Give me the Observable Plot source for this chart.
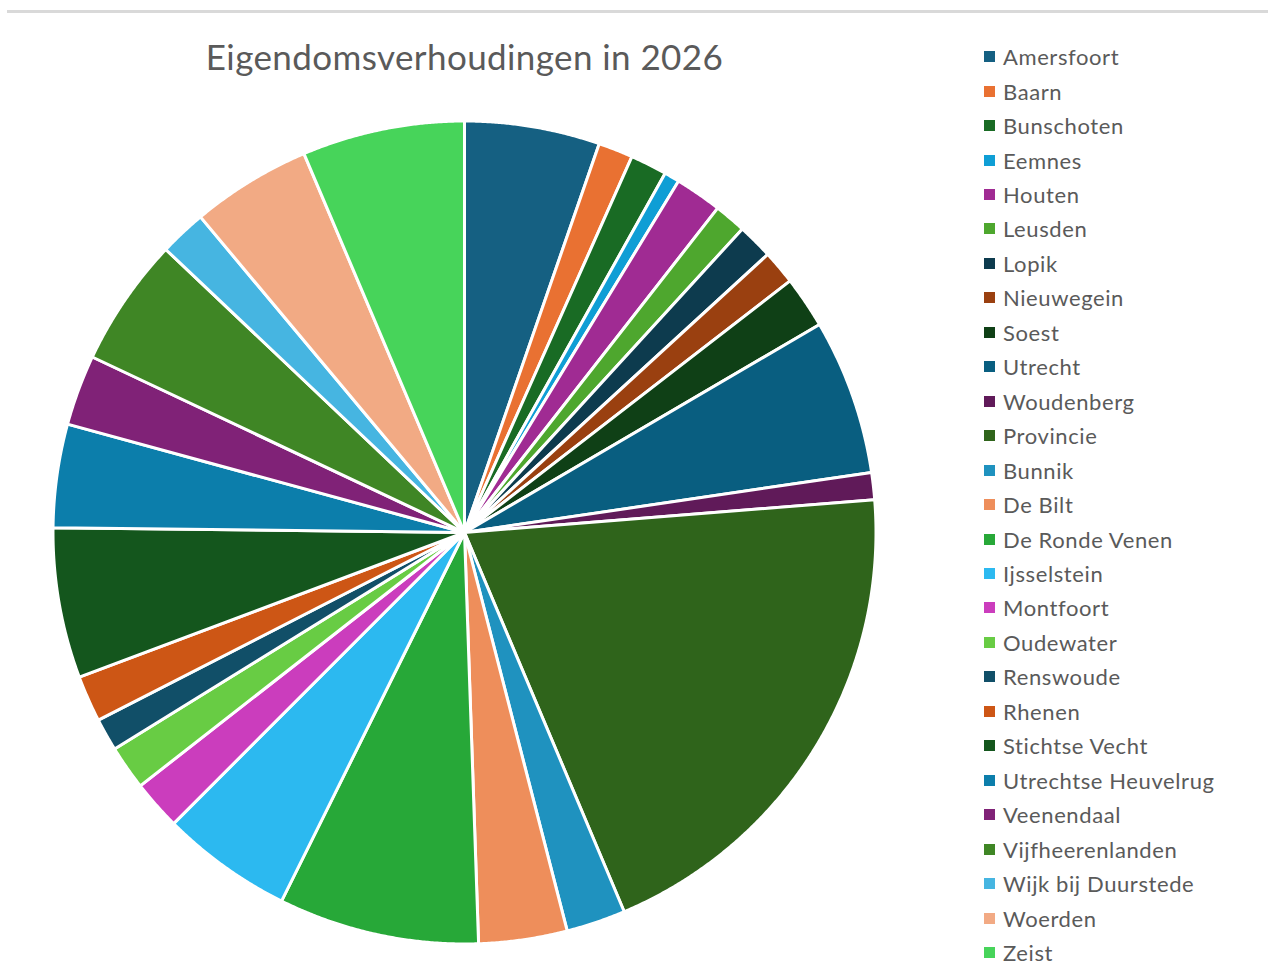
<!DOCTYPE html>
<html>
<head>
<meta charset="utf-8">
<script src="https://cdn.jsdelivr.net/npm/d3@7"></script>
<script src="https://cdn.jsdelivr.net/npm/@observablehq/plot@0.6"></script>
<style>
  html, body { margin: 0; padding: 0; background: #fff; }
  #frame { position: relative; width: 1268px; height: 972px; overflow: hidden; font-family: Lato, "Open Sans", sans-serif; }
  #topline { position: absolute; left: 7px; right: 0; top: 10px; height: 3px; background: #d9d9d9; }
  #title { position: absolute; left: 0; width: 929px; top: 35px; text-align: center; font-size: 35px; color: #5a5a5a; letter-spacing: 0.4px; }
  #pie { position: absolute; left: 34px; top: 102px; }
  #legend { position: absolute; left: 984px; top: 39.5px; }
  .item { display: flex; align-items: center; height: 34.46px; font-size: 22px; color: #5a5a5a; letter-spacing: 0.6px; white-space: nowrap; }
  .sw { width: 11px; height: 11px; margin-right: 8px; flex: none; }
</style>
</head>
<body>
<div id="frame">
  <div id="topline"></div>
  <div id="title"></div>
  <div id="pie"></div>
  <div id="legend"></div>
</div>
<script>
const title = "Eigendomsverhoudingen in 2026";

const names = [
  "Amersfoort", "Baarn", "Bunschoten", "Eemnes", "Houten", "Leusden", "Lopik",
  "Nieuwegein", "Soest", "Utrecht", "Woudenberg", "Provincie", "Bunnik", "De Bilt",
  "De Ronde Venen", "Ijsselstein", "Montfoort", "Oudewater", "Renswoude", "Rhenen",
  "Stichtse Vecht", "Utrechtse Heuvelrug", "Veenendaal", "Vijfheerenlanden",
  "Wijk bij Duurstede", "Woerden", "Zeist"
];

// share in percent
const values = [
  5.31, 1.36, 1.44, 0.60, 1.84, 1.25, 1.39,
  1.34, 2.04, 6.10, 1.06, 19.93, 2.33, 3.47,
  7.88, 5.16, 1.95, 1.74, 1.28, 1.82,
  5.90, 4.06, 2.77, 5.06,
  1.84, 4.71, 6.38
];

const colors = [
  "#156082", "#E97132", "#196B24", "#0F9ED5", "#A02B93", "#4EA72E", "#0D3B4E",
  "#9A4010", "#0F4016", "#095E80", "#601A59", "#2F641B", "#1F92BF", "#EE8E5B",
  "#27A838", "#2CB9F0", "#CB3DBD", "#68CC44", "#114F68", "#CD5615",
  "#14561D", "#0C7EAB", "#802277", "#3F8625",
  "#46B5E1", "#F2AA84", "#47D45A"
];

document.getElementById("title").textContent = title;

// build slice outlines from d3.pie angles (clockwise from 12 o'clock)
const arcs = d3.pie().sort(null).value(d => d)(values);
const outline = [];
arcs.forEach((a, i) => {
  const n = names[i];
  outline.push({name: n, x: 0, y: 0});
  const steps = Math.max(2, Math.ceil((a.endAngle - a.startAngle) / 0.004));
  for (let k = 0; k <= steps; k++) {
    const t = a.startAngle + (a.endAngle - a.startAngle) * k / steps;
    outline.push({name: n, x: Math.sin(t), y: Math.cos(t)});
  }
});

const size = 860;
const m = (size - 823) / 2;
const chart = Plot.plot({
  width: size,
  height: size,
  margin: m,
  x: {domain: [-1, 1], axis: null},
  y: {domain: [-1, 1], axis: null},
  color: {domain: names, range: colors},
  marks: [
    Plot.line(outline, {
      x: "x", y: "y", z: "name", fill: "name",
      stroke: "white", strokeWidth: 3, strokeLinejoin: "round",
      curve: "linear-closed"
    })
  ]
});
document.getElementById("pie").appendChild(chart);

const legend = document.getElementById("legend");
names.forEach((n, i) => {
  const row = document.createElement("div");
  row.className = "item";
  const sw = document.createElement("span");
  sw.className = "sw";
  sw.style.background = colors[i];
  const tx = document.createElement("span");
  tx.textContent = n;
  row.appendChild(sw);
  row.appendChild(tx);
  legend.appendChild(row);
});
</script>
</body>
</html>
